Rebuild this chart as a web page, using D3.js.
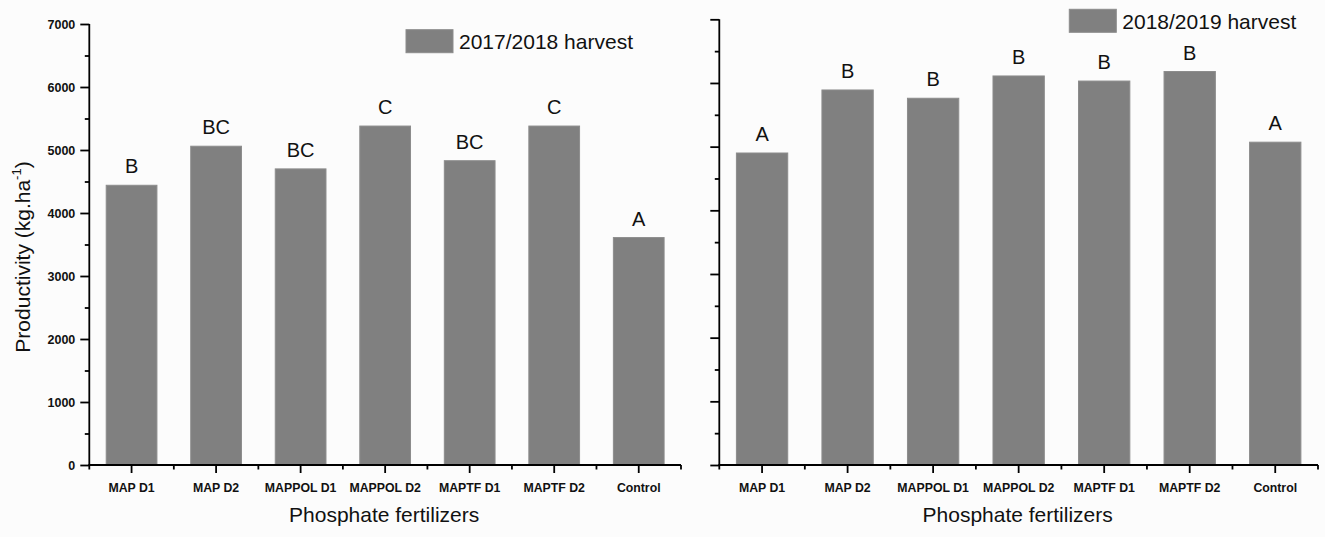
<!DOCTYPE html>
<html>
<head>
<meta charset="utf-8">
<script src="https://cdn.jsdelivr.net/npm/d3@7"></script>
<style>
  html, body { margin: 0; padding: 0; background: #fcfcfc; }
  svg { display: block; }
  text { font-family: "Liberation Sans", Arial, sans-serif; fill: #111; }
</style>
</head>
<body>
<svg id="chart" width="1325" height="537"></svg>
<script>
// ---- data ----
const categories = ["MAP D1", "MAP D2", "MAPPOL D1", "MAPPOL D2", "MAPTF D1", "MAPTF D2", "Control"];
const harvest1718 = [4440, 5060, 4700, 5380, 4830, 5380, 3610];
const letters1718 = ["B", "BC", "BC", "C", "BC", "C", "A"];
const harvest1819 = [4900, 5890, 5760, 6110, 6030, 6180, 5070];
const letters1819 = ["A", "B", "B", "B", "B", "B", "A"];
const yMajorTicks = [0, 1000, 2000, 3000, 4000, 5000, 6000, 7000];
const yMinorTicks = [500, 1500, 2500, 3500, 4500, 5500, 6500];
const legend1718 = "2017/2018 harvest";
const legend1819 = "2018/2019 harvest";
const yTitle = "Productivity (kg.ha";
const xTitle = "Phosphate fertilizers";

const svg = d3.select("#chart");
const barFill = "#808080";
const barStroke = "#8c8c8c";

function panel(opts) {
  const g = svg.append("g");
  const x = d3.scaleBand().domain(categories).range([opts.x0, opts.x1]).paddingInner(0.4).paddingOuter(0.2);
  const xb = d3.scaleBand().domain(categories).range([opts.x0, opts.x1]);
  const y = d3.scaleLinear().domain([0, 7000]).range([opts.y0, opts.yTop]);

  // bars
  g.selectAll("rect.bar").data(opts.values).join("rect")
    .attr("class", "bar")
    .attr("x", (d, i) => x(categories[i]))
    .attr("width", x.bandwidth())
    .attr("y", d => y(d))
    .attr("height", d => y(0) - y(d))
    .attr("fill", barFill)
    .attr("stroke", barStroke)
    .attr("stroke-width", 1);

  // letters
  g.selectAll("text.letter").data(opts.values).join("text")
    .attr("class", "letter")
    .attr("x", (d, i) => x(categories[i]) + x.bandwidth() / 2)
    .attr("y", d => y(d) - 12)
    .attr("text-anchor", "middle")
    .attr("font-size", 20)
    .text((d, i) => opts.letters[i]);

  // y axis major
  const yAxis = d3.axisLeft(y).tickValues(yMajorTicks).tickSize(9).tickPadding(5)
    .tickFormat(opts.yLabels ? d3.format("d") : () => "");
  const ya = g.append("g").attr("transform", `translate(${opts.x0},0)`).call(yAxis);
  ya.select(".domain").remove();
  ya.selectAll(".tick line").attr("stroke", "#000").attr("stroke-width", 1.8);
  ya.selectAll(".tick text").attr("font-size", 12.5).attr("font-weight", "bold")
    .style("font-family", "'Liberation Sans', Arial, sans-serif").attr("fill", "#111");
  // y axis minor
  const yMinor = d3.axisLeft(y).tickValues(yMinorTicks).tickSize(4.5).tickFormat(() => "");
  const ym = g.append("g").attr("transform", `translate(${opts.x0},0)`).call(yMinor);
  ym.select(".domain").remove();
  ym.selectAll(".tick line").attr("stroke", "#000").attr("stroke-width", 1.8);

  // x axis major ticks at category centers
  const xAxis = d3.axisBottom(xb).tickSize(8).tickPadding(10);
  const xa = g.append("g").attr("transform", `translate(0,${opts.y0})`).call(xAxis);
  xa.select(".domain").remove();
  xa.selectAll(".tick line").attr("stroke", "#000").attr("stroke-width", 1.8);
  xa.selectAll(".tick text").attr("font-size", 12.3).attr("font-weight", "bold")
    .style("font-family", "'Liberation Sans', Arial, sans-serif").attr("fill", "#111");
  // x minor ticks at band boundaries
  const bounds = categories.map(c => xb(c)).concat([opts.x1]);
  g.selectAll("line.xminor").data(bounds).join("line")
    .attr("class", "xminor")
    .attr("x1", d => d).attr("x2", d => d)
    .attr("y1", opts.y0).attr("y2", opts.y0 + 4.5)
    .attr("stroke", "#000").attr("stroke-width", 1.8);

  // axis lines
  g.append("line").attr("x1", opts.x0).attr("x2", opts.x0)
    .attr("y1", y(7000)).attr("y2", opts.y0 + 0.9)
    .attr("stroke", "#000").attr("stroke-width", 1.8);
  g.append("line").attr("x1", opts.x0 - 0.9).attr("x2", opts.x1)
    .attr("y1", opts.y0).attr("y2", opts.y0)
    .attr("stroke", "#000").attr("stroke-width", 1.8);

  // x title
  g.append("text").attr("x", (opts.x0 + opts.x1) / 2 - 1).attr("y", 522)
    .attr("text-anchor", "middle").attr("font-size", 21).text(xTitle);

  // legend
  g.append("rect").attr("x", opts.legX).attr("y", opts.legY)
    .attr("width", 47).attr("height", 23)
    .attr("fill", barFill).attr("stroke", barStroke);
  g.append("text").attr("x", opts.legX + 53).attr("y", opts.legY + 19.5)
    .attr("font-size", 21).text(opts.legend);
}

panel({ x0: 89.3, x1: 681, y0: 465, yTop: 24, values: harvest1718, letters: letters1718,
        yLabels: true, legX: 406, legY: 29.7, legend: legend1718 });
panel({ x0: 719.3, x1: 1318, y0: 465, yTop: 19.3, values: harvest1819, letters: letters1819,
        yLabels: false, legX: 1069.3, legY: 9.3, legend: legend1819 });

// y title
const yt = svg.append("text")
  .attr("transform", "translate(30,257) rotate(-90)")
  .attr("text-anchor", "middle")
  .attr("font-size", 21);
yt.append("tspan").text(yTitle);
yt.append("tspan").attr("font-size", 13).attr("dy", -9).text("-1");
yt.append("tspan").attr("dy", 9).text(")");
</script>
</body>
</html>
